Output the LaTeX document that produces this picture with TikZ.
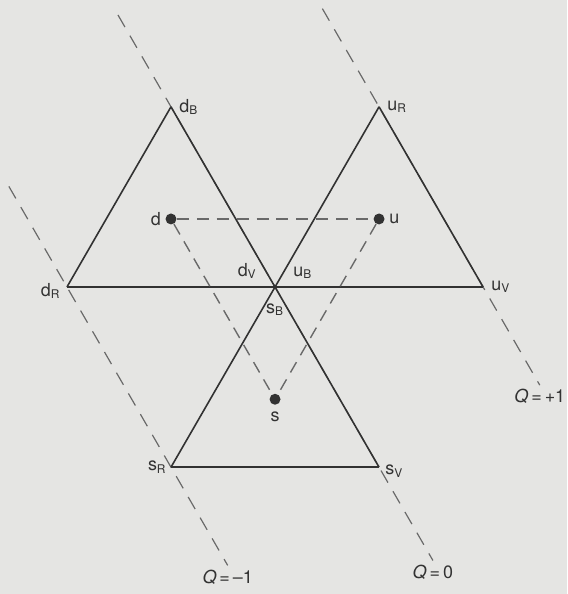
\documentclass[tikz,border=0pt]{standalone}
\usepackage{fontspec}
\setmainfont{TeX Gyre Heros}
\usetikzlibrary{positioning}
\definecolor{paper}{RGB}{229,229,227}
\definecolor{ink}{RGB}{50,50,50}
\definecolor{dashc}{RGB}{105,105,105}

\begin{document}
\begin{tikzpicture}[font=\small,
  side/.style={ink,line width=0.8pt},
  guide/.style={dashc,line width=0.6pt,dash pattern=on 7pt off 5pt},
  link/.style={dashc,line width=0.7pt,dash pattern=on 6pt off 4pt},
  quark/.style={circle,fill=ink,inner sep=0pt,minimum size=5.5pt},
  lbl/.style={inner sep=1pt,text=ink}]
  \def\a{3.67}
  % page and margins
  \fill[paper] (-4.851,-5.415) rectangle (5.151,5.062);
  \useasboundingbox (-4.851,-5.415) rectangle (5.151,5.062);
  % triangle corners
  \coordinate (O) at (0,0);
  \coordinate (dB) at (120:\a);
  \coordinate (dR) at (180:\a);
  \coordinate (uR) at (60:\a);
  \coordinate (uV) at (0:\a);
  \coordinate (sR) at (240:\a);
  \coordinate (sV) at (300:\a);
  % ends of the charge lines
  \coordinate (gLa) at ([shift={(120:2.05)}]dR);
  \coordinate (gLb) at ([shift={(300:2.0)}]sR);
  \coordinate (gMa) at ([shift={(120:1.87)}]dB);
  \coordinate (gMb) at ([shift={(300:1.9)}]sV);
  \coordinate (gRa) at ([shift={(120:2.0)}]uR);
  \coordinate (gRb) at ([shift={(300:2.0)}]uV);
  % charge lines
  \draw[guide] (gLa) -- (gLb);
  \draw[guide] (gMa) -- (gMb);
  \draw[guide] (gRa) -- (gRb);
  \node[lbl,below=1pt of gLb] (qm) {\textit{Q}\,=\,–1};
  \node[lbl,below=1pt of gMb] (qz) {\textit{Q}\,=\,0};
  \node[lbl,below=1pt of gRb] (qp) {\textit{Q}\,=\,+1};
  % triangles
  \draw[side] (dR) -- (uV);
  \draw[side] (dB) -- (sV);
  \draw[side] (uR) -- (sR);
  \draw[side] (dR) -- (dB);
  \draw[side] (uR) -- (uV);
  \draw[side] (sR) -- (sV);
  % corner labels
  \node[lbl,right=3pt of dB] (ldB) {d\textsubscript{B}};
  \node[lbl,left=2pt of dR,yshift=-2pt] (ldR) {d\textsubscript{R}};
  \node[lbl,above left=3pt and 8pt of O] (ldV) {d\textsubscript{V}};
  \node[lbl,right=3pt of uR] (luR) {u\textsubscript{R}};
  \node[lbl,above right=3pt and 8pt of O] (luB) {u\textsubscript{B}};
  \node[lbl,right=3pt of uV] (luV) {u\textsubscript{V}};
  \node[lbl,below=7pt of O] (lsB) {s\textsubscript{B}};
  \node[lbl,left=1pt of sR] (lsR) {s\textsubscript{R}};
  \node[lbl,right=2pt of sV,yshift=-2pt] (lsV) {s\textsubscript{V}};
  % quarks
  \node[quark] (d) at (-1.835,1.2) {};
  \node[quark] (u) at (1.835,1.2) {};
  \node[quark] (s) at (0,-1.98) {};
  \draw[link] (d) -- (u);
  \draw[link] (d) -- (s);
  \draw[link] (u) -- (s);
  \node[lbl,left=1pt of d] (ld) {d};
  \node[lbl,right=1pt of u] (lu) {u};
  \node[lbl,below=2pt of s] (ls) {s};
\end{tikzpicture}
\end{document}
